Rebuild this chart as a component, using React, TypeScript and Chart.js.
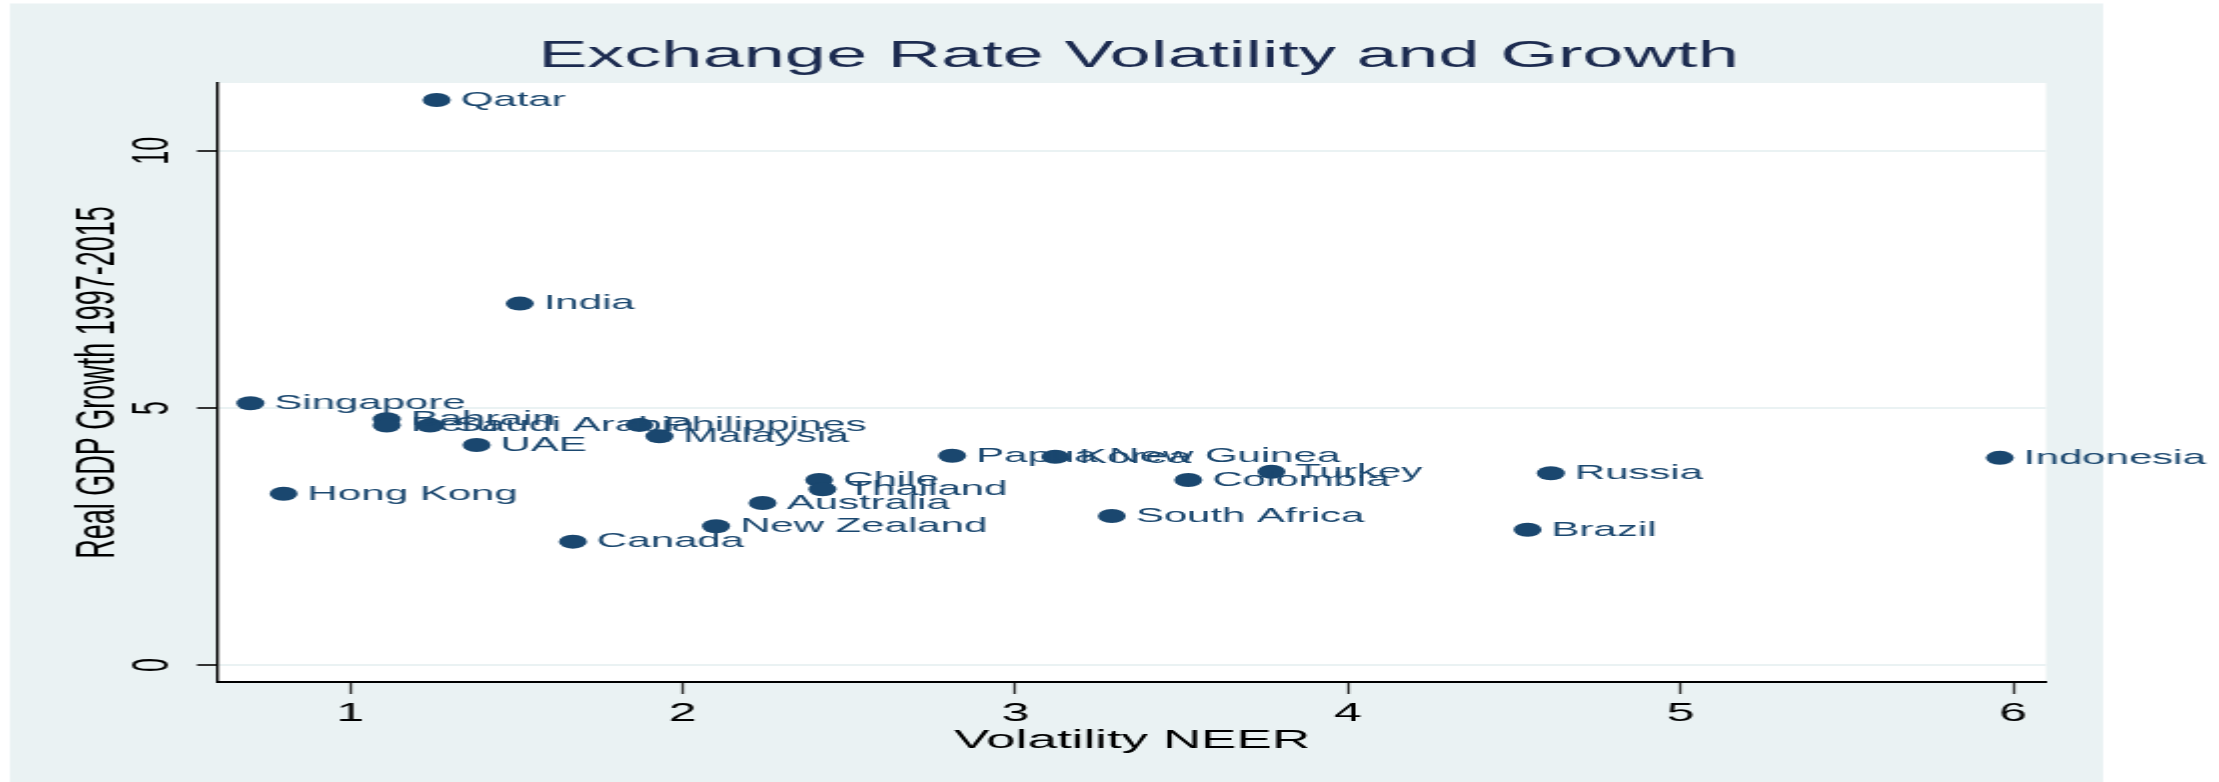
import React, { useEffect, useRef } from "react";
import { Chart, registerables } from "chart.js";

Chart.register(...registerables);

// ---- data ----
const countries = [
  "Qatar", "India", "Singapore", "Bahrain", "Peru", "Saudi Arabia", "Philippines",
  "Malaysia", "UAE", "Hong Kong", "Canada", "New Zealand", "Australia", "Chile",
  "Thailand", "Papua New Guinea", "Korea", "South Africa", "Colombia", "Turkey",
  "Russia", "Brazil", "Indonesia",
];
const volatilityNEER = [
  1.26, 1.51, 0.70, 1.11, 1.11, 1.24, 1.87,
  1.93, 1.38, 0.80, 1.67, 2.10, 2.24, 2.41,
  2.42, 2.81, 3.12, 3.29, 3.52, 3.77,
  4.61, 4.54, 5.96,
];
const gdpGrowth = [
  10.99, 7.03, 5.09, 4.78, 4.66, 4.66, 4.67,
  4.45, 4.28, 3.33, 2.40, 2.70, 3.15, 3.60,
  3.42, 4.07, 4.05, 2.90, 3.60, 3.76,
  3.73, 2.63, 4.03,
];
const xTickValues = [1, 2, 3, 4, 5, 6];
const yTickValues = [0, 5, 10];

const TITLE = "Exchange Rate Volatility and Growth";
const X_TITLE = "Volatility NEER";
const Y_TITLE = "Real GDP Growth 1997-2015";

const FONT = '"Liberation Sans", Arial, Helvetica, sans-serif';
const NAVY = "#1A476F";
const TITLE_NAVY = "#1C2B50";
const BG = "#EAF2F3";

// logical canvas (stretched 2x horizontally by CSS, like the reference)
const LW = 1110;
const LH = 782;

const backgroundPlugin = {
  id: "stataBackground",
  beforeDraw(chart: any) {
    const { ctx, chartArea } = chart;
    ctx.save();
    ctx.fillStyle = "#FFFFFF";
    ctx.fillRect(0, 0, chart.width, chart.height);
    ctx.fillStyle = BG;
    ctx.fillRect(5, 3.5, 1047, LH - 3.5);
    ctx.fillStyle = "#FFFFFF";
    ctx.fillRect(chartArea.left, chartArea.top, chartArea.right - chartArea.left, chartArea.bottom - chartArea.top);
    ctx.restore();
  },
};

const titlePlugin = {
  id: "graphTitle",
  afterDraw(chart: any) {
    const { ctx, chartArea } = chart;
    ctx.save();
    ctx.font = `37px ${FONT}`;
    ctx.fillStyle = TITLE_NAVY;
    ctx.textAlign = "center";
    ctx.textBaseline = "middle";
    ctx.fillText(TITLE, (chartArea.left + chartArea.right) / 2 + 3.2, 56.5);
    ctx.restore();
  },
};

const pointLabelPlugin = {
  id: "pointLabels",
  afterDatasetsDraw(chart: any) {
    const { ctx } = chart;
    const meta = chart.getDatasetMeta(0);
    ctx.save();
    ctx.font = `21px ${FONT}`;
    ctx.fillStyle = NAVY;
    ctx.textAlign = "left";
    ctx.textBaseline = "middle";
    meta.data.forEach((el: any, i: number) => {
      ctx.fillText(countries[i], el.x + 12, el.y);
    });
    ctx.restore();
  },
};

export default function App() {
  const ref = useRef<HTMLCanvasElement | null>(null);

  useEffect(() => {
    document.body.style.margin = "0";
    if (!ref.current) return;
    const chart = new Chart(ref.current, {
      type: "scatter",
      data: {
        datasets: [
          {
            data: volatilityNEER.map((v, i) => ({ x: v, y: gdpGrowth[i] })),
            backgroundColor: NAVY,
            borderWidth: 0,
            pointRadius: 7,
            pointHoverRadius: 7,
          },
        ],
      },
      options: {
        animation: false,
        responsive: false,
        devicePixelRatio: 1,
        events: [],
        layout: { padding: { left: 5, top: 83, right: 86.5, bottom: 0 } },
        plugins: {
          legend: { display: false },
          tooltip: { enabled: false },
          title: { display: false },
        },
        scales: {
          x: {
            type: "linear",
            position: "bottom",
            min: 0.6025,
            max: 6.099,
            afterBuildTicks: (scale: any) => {
              scale.ticks = xTickValues.map((v) => ({ value: v }));
            },
            afterFit: (scale: any) => {
              scale.height = 100;
            },
            grid: {
              drawOnChartArea: false,
              drawTicks: true,
              tickLength: 12,
              tickColor: "#333333",
              tickWidth: 1.3,
            },
            border: { display: true, color: "#000000", width: 2 },
            ticks: {
              color: "#000000",
              font: { family: FONT, size: 25 },
              padding: 5,
              maxRotation: 0,
              minRotation: 0,
            },
            title: {
              display: true,
              text: X_TITLE,
              color: "#000000",
              font: { family: FONT, size: 26.5 },
              padding: { top: 0, bottom: 25 },
            },
          },
          y: {
            type: "linear",
            position: "left",
            min: -0.33,
            max: 11.32,
            afterBuildTicks: (scale: any) => {
              scale.ticks = yTickValues.map((v) => ({ value: v }));
            },
            afterFit: (scale: any) => {
              scale.width = 104;
            },
            grid: {
              drawOnChartArea: true,
              color: BG,
              lineWidth: 2,
              drawTicks: true,
              tickLength: 10.5,
              tickColor: "#333333",
              tickWidth: 2,
            },
            border: { display: true, color: "#000000", width: 1.4 },
            ticks: {
              color: "#000000",
              font: { family: FONT, size: 25 },
              padding: 7,
              minRotation: 90,
              maxRotation: 90,
              crossAlign: "center",
            },
            title: {
              display: true,
              text: Y_TITLE,
              color: "#000000",
              font: { family: FONT, size: 27 },
              padding: { top: 28.3, bottom: 0 },
            },
          },
        },
      },
      plugins: [backgroundPlugin, pointLabelPlugin, titlePlugin],
    } as any);
    return () => chart.destroy();
  }, []);

  return (
    <canvas
      ref={ref}
      width={LW}
      height={LH}
      style={{ display: "block", width: "2219px", height: "782px" }}
    />
  );
}
